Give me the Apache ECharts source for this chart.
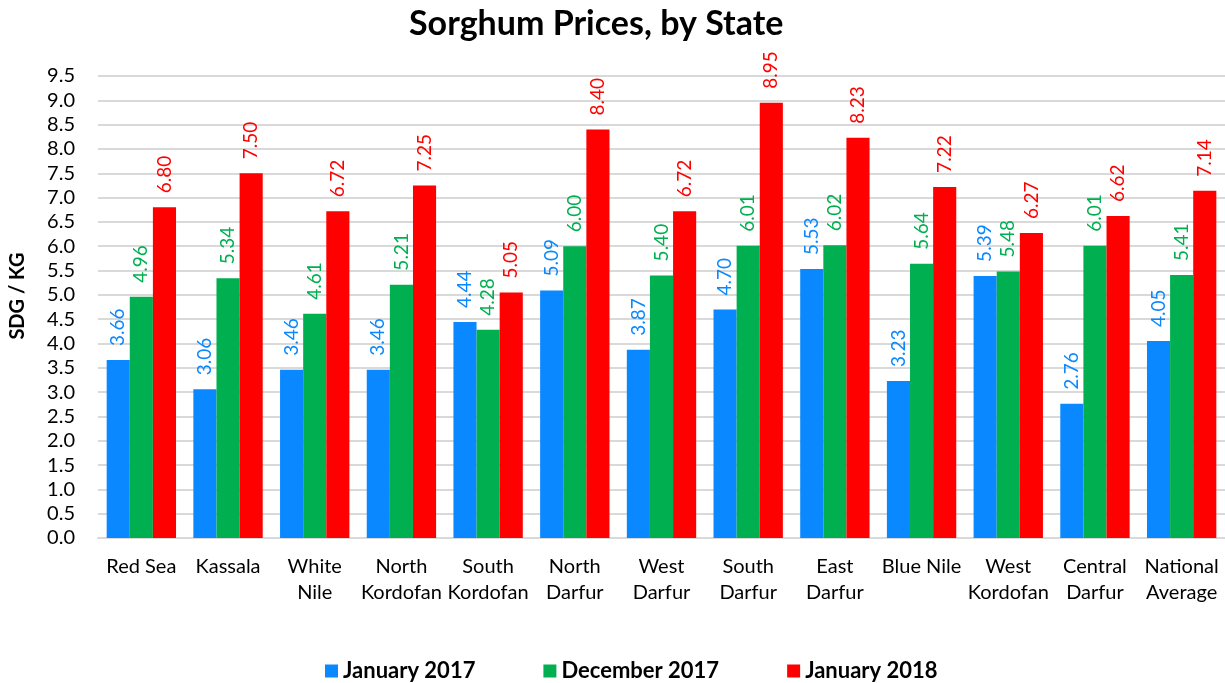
<!DOCTYPE html>
<html>
<head>
<meta charset="utf-8">
<script src="https://cdn.jsdelivr.net/npm/echarts@6/dist/echarts.min.js"></script>
<style>
	html, body { margin: 0; padding: 0; background: #fff; }
	#chart { width: 1225px; height: 683px; }
</style>
</head>
<body>
<div id="chart"></div>
<script>
var states = ["Red Sea", "Kassala", "White\nNile", "North\nKordofan", "South\nKordofan", "North\nDarfur", "West\nDarfur", "South\nDarfur", "East\nDarfur", "Blue Nile", "West\nKordofan", "Central\nDarfur", "National\nAverage"];
var jan2017 = [3.66, 3.06, 3.46, 3.46, 4.44, 5.09, 3.87, 4.70, 5.53, 3.23, 5.39, 2.76, 4.05];
var dec2017 = [4.96, 5.34, 4.61, 5.21, 4.28, 6.00, 5.40, 6.01, 6.02, 5.64, 5.48, 6.01, 5.41];
var jan2018 = [6.80, 7.50, 6.72, 7.25, 5.05, 8.40, 6.72, 8.95, 8.23, 7.22, 6.27, 6.62, 7.14];

var fontName = "Lato, 'Open Sans', sans-serif";

//柱子上的竖排数值
function barLabel(color) {
	return {
		show: true,
		position: 'top',
		rotate: 90,
		align: 'left',
		verticalAlign: 'middle',
		distance: 14,
		color: color,
		fontSize: 19,
		fontFamily: fontName,
		formatter: function(p) { return p.value.toFixed(2); }
	};
}

function makeSeries(name, data, color) {
	return {
		name: name,
		type: 'bar',
		data: data,
		barGap: '0%',
		barCategoryGap: '20%',
		itemStyle: { color: color },
		label: barLabel(color)
	};
}

var chart = echarts.init(document.getElementById('chart'));
chart.setOption({
	animation: false,
	title: {
		text: 'Sorghum Prices, by State',
		left: 404,
		top: 2,
		textStyle: { fontSize: 34, fontWeight: 'bold', color: '#000', fontFamily: fontName }
	},
	legend: {
		top: 655,
		left: 320,
		itemGap: 68,
		itemWidth: 13,
		itemHeight: 13,
		icon: 'rect',
		textStyle: { fontSize: 22, fontWeight: 'bold', color: '#000', fontFamily: fontName }
	},
	grid: { left: 94, right: 0, top: 76, bottom: 145 },
	xAxis: {
		type: 'category',
		data: states,
		axisLine: { show: true, lineStyle: { color: '#d9d9d9', width: 2 } },
		axisTick: { show: false },
		axisLabel: { fontSize: 20, color: '#000', lineHeight: 26, margin: 16, interval: 0, fontFamily: fontName }
	},
	yAxis: {
		type: 'value',
		min: 0,
		max: 9.5,
		interval: 0.5,
		name: 'SDG / KG',
		nameLocation: 'middle',
		nameGap: 70,
		nameTextStyle: { fontSize: 20, fontWeight: 'bold', color: '#000', fontFamily: fontName, padding: [0, 0, 0, 22] },
		axisLabel: { fontSize: 20, color: '#000', margin: 23, fontFamily: fontName, formatter: function(v) { return v.toFixed(1); } },
		splitLine: { lineStyle: { color: '#d9d9d9', width: 2 } }
	},
	series: [
		makeSeries('January 2017', jan2017, '#0A88FF'),
		makeSeries('December 2017', dec2017, '#00B050'),
		makeSeries('January 2018', jan2018, '#FF0000')
	]
});
</script>
</body>
</html>
